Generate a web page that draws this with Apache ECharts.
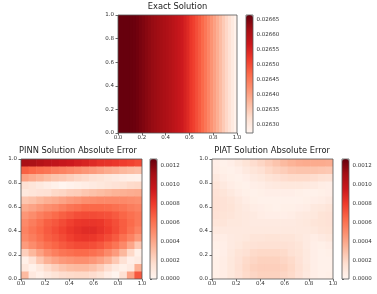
<!DOCTYPE html>
<html>
<head>
<meta charset="utf-8">
<script src="https://cdn.jsdelivr.net/npm/echarts@6/dist/echarts.min.js"></script>
<style>html,body{margin:0;padding:0;background:#fff}#c{width:377px;height:294px}</style>
</head>
<body>
<div id="c"></div>
<script>
// ---- data ----
// Exact solution: value per column (x from 0 to 1), constant along y
const exactCols = [
  0.026667, 0.026667, 0.026667, 0.026667, 0.026665, 0.026663, 0.026659, 0.026653, 0.026647, 0.026641,
  0.026635, 0.026629, 0.026625, 0.026621, 0.026616, 0.026610, 0.026604, 0.026598, 0.026590, 0.026582,
  0.026574, 0.026566, 0.026554, 0.026542, 0.026524, 0.026513, 0.026499, 0.026485, 0.026469, 0.026453,
  0.026435, 0.026418, 0.026402, 0.026386, 0.026368, 0.026350, 0.026332, 0.026315, 0.026297, 0.026279
];
const exactRange = [0.026271, 0.026667];
const exactCbarTicks = [0.02630, 0.02635, 0.02640, 0.02645, 0.02650, 0.02655, 0.02660, 0.02665];
// PINN absolute error, units of 1e-4, rows from top (y=1) to bottom (y=0), columns x=0..1
const pinnErrE4 = [
  [10.9,10.8,10.5,10.2,10.0,9.7,9.5,9.2,9.0,8.7,8.4,8.3,8.1,7.9,7.7,7.4],
  [6.7,6.4,6.1,5.9,5.6,5.4,5.1,4.9,4.6,4.4,4.1,3.8,3.6,3.3,3.1,2.9],
  [4.2,3.8,3.5,3.1,2.8,2.6,2.3,2.0,1.8,1.5,1.3,1.0,0.8,0.6,0.4,0.3],
  [1.5,1.2,0.9,0.6,0.3,0.0,0.2,0.4,0.6,0.8,1.0,1.2,1.4,1.6,1.8,1.9],
  [1.0,1.2,1.4,1.5,1.9,2.0,2.3,2.4,2.7,2.9,3.1,3.3,3.5,3.6,3.7,3.8],
  [2.7,2.9,3.3,3.6,3.8,4.1,4.4,4.6,4.9,5.0,5.1,5.1,5.1,5.1,5.0,4.9],
  [3.8,4.1,4.5,4.9,5.1,5.5,5.9,6.1,6.4,6.4,6.4,6.3,6.1,5.9,5.6,5.4],
  [4.6,5.0,5.5,5.9,6.3,6.7,7.0,7.3,7.4,7.4,7.3,7.2,6.9,6.5,6.1,5.8],
  [5.1,5.6,6.1,6.7,7.0,7.4,7.8,8.1,8.2,8.2,8.1,7.7,7.3,6.8,6.3,5.8],
  [5.4,5.9,6.4,6.9,7.3,7.7,8.1,8.4,8.6,8.6,8.3,7.9,7.4,6.8,6.1,5.4],
  [5.1,5.6,6.1,6.7,7.0,7.4,7.8,8.1,8.2,8.1,7.8,7.4,6.9,6.1,5.4,4.5],
  [4.4,5.0,5.6,6.1,6.5,6.9,7.2,7.4,7.4,7.3,7.0,6.5,5.9,5.1,4.0,2.6],
  [2.3,3.3,4.2,5.0,5.5,5.9,6.1,6.3,6.3,6.1,5.8,5.1,4.4,3.3,1.9,0.4],
  [0.4,1.5,2.7,3.6,4.1,4.5,4.7,4.9,4.9,4.6,4.2,3.6,2.6,1.5,0.5,0.8],
  [1.0,0.3,1.0,1.8,2.3,2.8,3.1,3.2,3.2,2.9,2.4,1.7,0.9,0.4,0.8,3.6],
  [3.2,0.9,0.4,0.9,1.3,1.7,1.8,1.9,1.9,1.7,1.3,0.6,0.1,1.5,4.1,7.0]
];
// PIAT absolute error, units of 1e-4, same layout
const piatErrE4 = [
  [0.5,0.3,0.5,0.9,1.3,1.7,2.0,2.4,2.8,3.2,3.5,3.7,3.8,3.8,3.8,3.7],
  [0.6,0.4,0.3,0.5,0.9,1.2,1.5,1.9,2.2,2.4,2.7,2.8,2.8,2.8,2.7,2.6],
  [0.9,0.6,0.4,0.3,0.5,0.8,1.0,1.3,1.5,1.7,1.8,1.8,1.8,1.7,1.5,1.4],
  [1.2,0.9,0.6,0.4,0.3,0.5,0.6,0.8,0.9,1.0,1.0,1.0,0.9,0.8,0.6,0.5],
  [1.4,1.2,0.9,0.6,0.4,0.3,0.4,0.5,0.5,0.5,0.5,0.4,0.3,0.3,0.4,0.5],
  [1.5,1.4,1.2,0.9,0.6,0.4,0.3,0.3,0.3,0.3,0.3,0.3,0.4,0.5,0.6,0.8],
  [1.5,1.4,1.3,1.0,0.8,0.6,0.5,0.4,0.3,0.4,0.4,0.5,0.6,0.9,1.0,1.2],
  [1.4,1.3,1.2,1.0,0.9,0.8,0.6,0.5,0.5,0.5,0.6,0.8,0.9,1.0,1.3,1.4],
  [1.2,1.2,1.0,1.0,0.9,0.8,0.8,0.8,0.8,0.8,0.8,0.9,1.0,1.2,1.3,1.4],
  [0.9,0.9,0.9,0.9,0.9,0.9,0.9,0.9,0.9,0.9,0.9,0.9,0.9,1.0,1.2,1.3],
  [0.6,0.6,0.8,0.9,1.0,1.2,1.2,1.3,1.3,1.2,1.2,1.0,0.8,0.6,0.8,1.0],
  [0.4,0.5,0.8,1.0,1.3,1.4,1.5,1.5,1.5,1.5,1.4,1.2,0.8,0.5,0.4,0.6],
  [0.3,0.5,0.9,1.3,1.5,1.8,1.9,1.9,1.9,1.8,1.5,1.3,0.9,0.5,0.3,0.4],
  [0.4,0.6,1.0,1.4,1.8,2.0,2.2,2.2,2.2,2.0,1.8,1.4,0.9,0.5,0.3,0.3],
  [0.4,0.6,1.0,1.5,1.9,2.2,2.3,2.3,2.3,2.2,1.9,1.5,1.0,0.5,0.3,0.3],
  [0.4,0.6,1.0,1.4,1.8,2.0,2.2,2.2,2.2,2.0,1.8,1.4,0.9,0.5,0.3,0.4]
];
const errRange = [0, 0.00127];
const errCbarTicks = [0, 0.0002, 0.0004, 0.0006, 0.0008, 0.0010, 0.0012];
const titles = ['Exact Solution', 'PINN Solution Absolute Error', 'PIAT Solution Absolute Error'];
const reds = ['#fff5f0','#fee0d2','#fcbba1','#fc9272','#fb6a4a','#ef3b2c','#cb181d','#a50f15','#67000d'];

// ---- build ----
const FONT = 'DejaVu Sans';
const exactData = exactCols.map((v, i) => [(i + 0.5) / exactCols.length, 0.5, v]);
function gridData(rows) {
  const out = [];
  const nr = rows.length;
  rows.forEach((row, r) => {
    const nc = row.length;
    row.forEach((v, c) => out.push([(c + 0.5) / nc, 1 - (r + 0.5) / nr, v * 1e-4]));
  });
  return out;
}
const pinnData = gridData(pinnErrE4);
const piatData = gridData(piatErrE4);

function cellRenderer(hw, hh) {
  return function (params, api) {
    const x = api.value(0), y = api.value(1);
    const p0 = api.coord([x - hw, y + hh]);
    const p1 = api.coord([x + hw, y - hh]);
    return {
      type: 'rect',
      shape: { x: p0[0], y: p0[1], width: p1[0] - p0[0] + 0.6, height: p1[1] - p0[1] + 0.6 },
      style: { fill: api.visual('color') }
    };
  };
}

const plots = [
  { left: 118, top: 15, width: 119, height: 118 },
  { left: 21, top: 159, width: 121, height: 120 },
  { left: 212, top: 159, width: 121, height: 120 }
];
const cbars = [
  { left: 246, top: 15, width: 7, height: 118 },
  { left: 150, top: 159, width: 7, height: 120 },
  { left: 342, top: 159, width: 7, height: 120 }
];
const titlePos = [
  { x: 177.5, y: 3 },
  { x: 78, y: 147 },
  { x: 272, y: 147 }
];
const ranges = [exactRange, errRange, errRange];
const cbTicks = [exactCbarTicks, errCbarTicks, errCbarTicks];
const cbDigits = [5, 4, 4];

const grid = [], xAxis = [], yAxis = [], visualMap = [], title = [];
const labelStyle = { fontFamily: FONT, fontSize: 5.5, color: '#333' };
const tickStyle = { color: '#444', width: 0.8 };
plots.forEach((p, i) => {
  grid.push(Object.assign({ show: true, borderColor: '#555', borderWidth: 0.8, backgroundColor: 'rgba(0,0,0,0)', z: 10 }, p));
  xAxis.push({ gridIndex: i, type: 'value', min: 0, max: 1, interval: 0.2,
    axisLine: { show: false }, splitLine: { show: false },
    axisTick: { show: true, length: 2.5, lineStyle: tickStyle },
    axisLabel: Object.assign({ margin: 2, formatter: v => v.toFixed(1), showMinLabel: true, showMaxLabel: true }, labelStyle) });
  yAxis.push({ gridIndex: i, type: 'value', min: 0, max: 1, interval: 0.2,
    axisLine: { show: false }, splitLine: { show: false },
    axisTick: { show: true, length: 2.5, lineStyle: tickStyle },
    axisLabel: Object.assign({ margin: 4, formatter: v => v.toFixed(1), showMinLabel: true, showMaxLabel: true }, labelStyle) });
  title.push({ text: titles[i], left: titlePos[i].x, top: titlePos[i].y, textAlign: 'center', padding: 0,
    textStyle: { fontFamily: FONT, fontSize: 8.3, fontWeight: 'normal', color: '#222' } });
});
cbars.forEach((c, i) => {
  const gi = 3 + i;
  grid.push(Object.assign({ show: true, borderColor: '#555', borderWidth: 0.8, backgroundColor: 'rgba(0,0,0,0)', z: 10 }, c));
  xAxis.push({ gridIndex: gi, type: 'value', min: 0, max: 1, show: false });
  const d = cbDigits[i];
  yAxis.push({ gridIndex: gi, type: 'value', position: 'right', min: ranges[i][0], max: ranges[i][1],
    axisLine: { show: false }, splitLine: { show: false },
    axisTick: { show: true, length: 2, lineStyle: tickStyle, customValues: cbTicks[i] },
    axisLabel: Object.assign({ margin: 3.5, customValues: cbTicks[i], formatter: v => v.toFixed(d) }, labelStyle) });
  visualMap.push({ type: 'continuous', seriesIndex: i, dimension: 2, min: ranges[i][0], max: ranges[i][1],
    calculable: false, orient: 'vertical', left: c.left, top: c.top, itemWidth: c.width, itemHeight: c.height,
    padding: 0, text: null, hoverLink: false, inRange: { color: reds } });
});

const series = [
  { type: 'custom', xAxisIndex: 0, yAxisIndex: 0, data: exactData, clip: true,
    encode: { x: 0, y: 1 }, renderItem: cellRenderer(0.5 / exactCols.length, 0.5) },
  { type: 'custom', xAxisIndex: 1, yAxisIndex: 1, data: pinnData, clip: true,
    encode: { x: 0, y: 1 }, renderItem: cellRenderer(0.5 / pinnErrE4[0].length, 0.5 / pinnErrE4.length) },
  { type: 'custom', xAxisIndex: 2, yAxisIndex: 2, data: piatData, clip: true,
    encode: { x: 0, y: 1 }, renderItem: cellRenderer(0.5 / piatErrE4[0].length, 0.5 / piatErrE4.length) }
];

const chart = echarts.init(document.getElementById('c'), null, { renderer: 'canvas' });
chart.setOption({ animation: false, backgroundColor: '#fff', title, grid, xAxis, yAxis, visualMap, series });
</script>
</body>
</html>
